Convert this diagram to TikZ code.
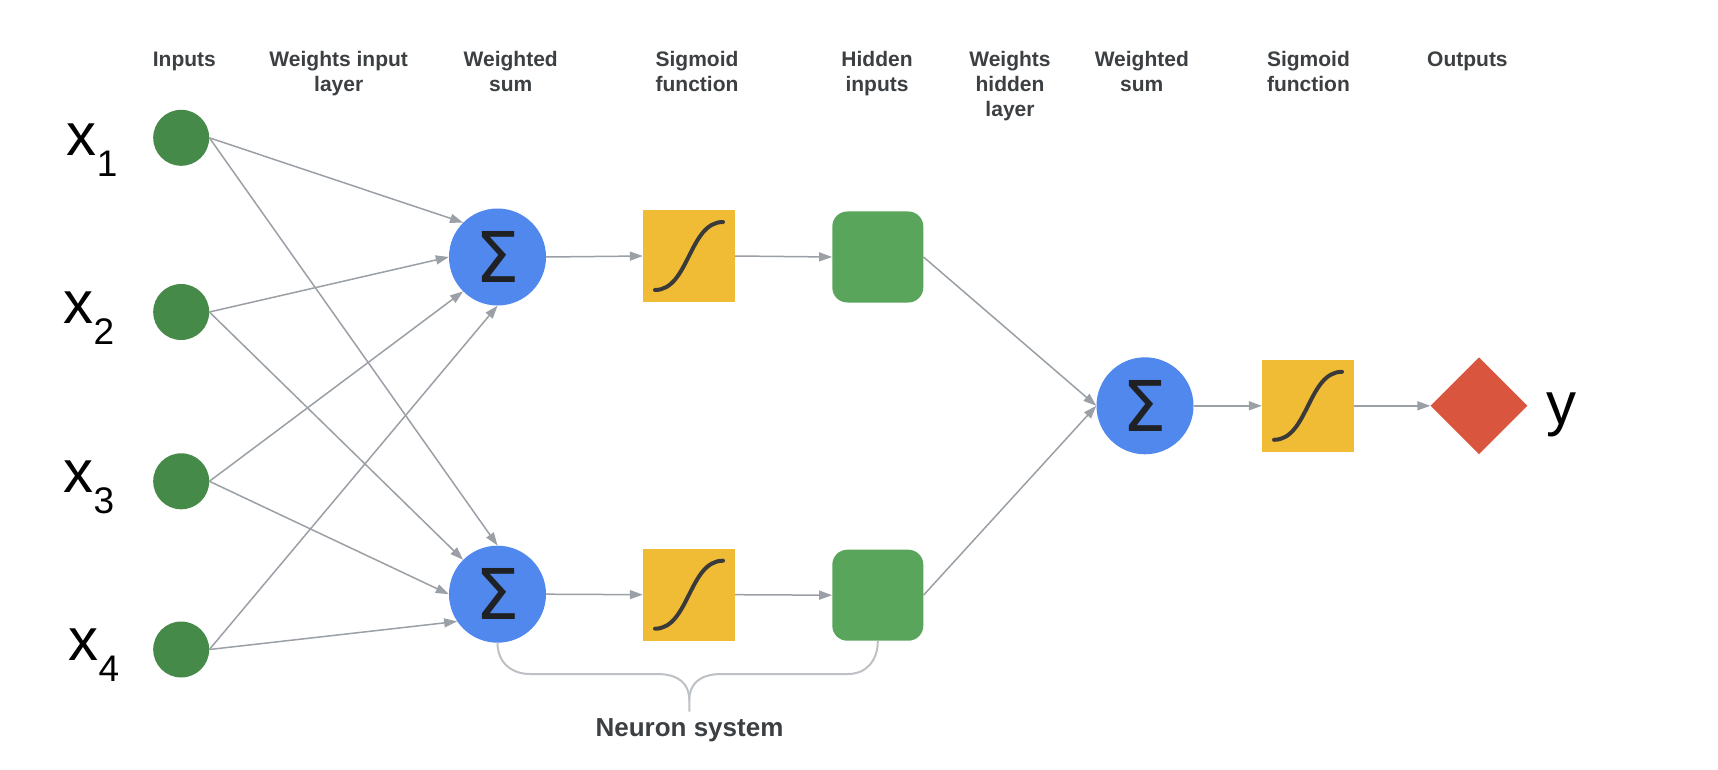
\documentclass[tikz,border=0pt]{standalone}
\usepackage{fontspec}
\setmainfont{Liberation Sans}
\newfontfamily\sigmafont{DejaVu Sans}
\usetikzlibrary{arrows.meta,shapes.geometric}
\definecolor{ingreen}{HTML}{458A48}
\definecolor{hidgreen}{HTML}{59A55C}
\definecolor{sumblue}{HTML}{5088EE}
\definecolor{sgyellow}{HTML}{F0BC36}
\definecolor{outred}{HTML}{D9553D}
\definecolor{conngray}{HTML}{9AA0A6}
\definecolor{bracegray}{HTML}{BDC1C6}
\definecolor{headgray}{HTML}{3C4043}
\definecolor{sigmatext}{HTML}{202124}
\definecolor{curvegray}{HTML}{3A3A3A}
\tikzset{
  inputnode/.style={circle, fill=ingreen, minimum size=56pt, inner sep=0pt},
  sumnode/.style={circle, fill=sumblue, minimum size=97pt, inner sep=0pt, text=sigmatext, font=\sigmafont\fontsize{70}{70}\selectfont},
  sgmbox/.style={rectangle, fill=sgyellow, minimum size=92pt, inner sep=0pt},
  hidbox/.style={rectangle, rounded corners=15pt, fill=hidgreen, minimum size=91pt, inner sep=0pt},
  outnode/.style={diamond, fill=outred, minimum size=97pt, inner sep=0pt},
  conn/.style={draw=conngray, line width=1.5pt, -{Triangle[length=13pt,width=9pt]}},
  header/.style={font=\bfseries\fontsize{21}{25}\selectfont, text=headgray, align=center, anchor=base, inner sep=0pt},
  varlabel/.style={font=\fontsize{60}{60}\selectfont, text=black, anchor=base west, inner sep=0pt},
  bracepath/.style={draw=bracegray, line width=2pt},
  sigcurve/.style={draw=curvegray, line width=4pt, line cap=round}
}
\newcommand{\vsub}[1]{\raisebox{-21pt}{\fontsize{37}{37}\selectfont #1}}
\begin{document}
\begin{tikzpicture}[x=1pt,y=-1pt]
\useasboundingbox (0,0) rectangle (1718,770);
\fill[white] (0,0) rectangle (1718,770);

% headers (positioned at the baseline of their last line)
\node[header] (h1) at (184.4,66.7) {Inputs};
\node[header] (h2) at (338.7,91.7) {Weights input\\layer};
\node[header] (h3) at (510.7,91.7) {Weighted\\sum};
\node[header] (h4) at (697,91.7) {Sigmoid\\function};
\node[header] (h5) at (877,91.7) {Hidden\\inputs};
\node[header] (h6) at (1010,116.7) {Weights\\hidden\\layer};
\node[header] (h7) at (1141.8,91.7) {Weighted\\sum};
\node[header] (h8) at (1308.4,91.7) {Sigmoid\\function};
\node[header] (h9) at (1467.4,66.7) {Outputs};

% inputs
\node[inputnode] (in1) at (181.2,137.8) {};
\node[inputnode] (in2) at (181.2,312) {};
\node[inputnode] (in3) at (181.2,481.3) {};
\node[inputnode] (in4) at (181.2,649.5) {};
\node[varlabel] (l1) at (66.7,155.5) {x\vsub{1}};
\node[varlabel] (l2) at (63.3,323.9) {x\vsub{2}};
\node[varlabel] (l3) at (63.3,492.3) {x\vsub{3}};
\node[varlabel] (l4) at (68.3,660.7) {x\vsub{4}};

% neuron system
\node[sumnode] (sig1) at (497.5,257) {Σ};
\node[sumnode] (sig2) at (497.5,594.2) {Σ};
\node[sgmbox] (sgm1) at (689,256) {};
\node[sgmbox] (sgm2) at (689,594.7) {};
\node[hidbox] (hid1) at (877.8,257) {};
\node[hidbox] (hid2) at (877.8,595.2) {};

% output part
\node[sumnode] (sig3) at (1145,405.8) {Σ};
\node[sgmbox] (sgm3) at (1308,405.8) {};
\node[outnode] (out) at (1479,405.8) {};
\node[varlabel] (ly) at (1546,424.5) {y};

% sigmoid curves
\foreach \n in {sgm1,sgm2,sgm3}
  \draw[sigcurve] ([shift={(-34,34)}]\n.center) .. controls ([shift={(0,34)}]\n.center) and ([shift={(0,-34)}]\n.center) .. ([shift={(34,-34)}]\n.center);

% connectors input layer
\draw[conn] (in1.east) -- (sig1.north west);
\draw[conn] (in1.east) -- (sig2.north);
\draw[conn] (in2.east) -- (sig1.west);
\draw[conn] (in2.east) -- (sig2.north west);
\draw[conn] (in3.east) -- (sig1.south west);
\draw[conn] (in3.east) -- (sig2.west);
\draw[conn] (in4.east) -- (sig1.south);
\draw[conn] (in4.east) -- (sig2.214);

\draw[conn] (sig1.east) -- (sgm1.west);
\draw[conn] (sgm1.east) -- (hid1.west);
\draw[conn] (sig2.east) -- (sgm2.west);
\draw[conn] (sgm2.east) -- (hid2.west);

\draw[conn] (hid1.east) -- (sig3.west);
\draw[conn] (hid2.east) -- (sig3.west);
\draw[conn] (sig3.east) -- (sgm3.west);
\draw[conn] (sgm3.east) -- (out.west);

% brace
\coordinate (bracetip) at (689.3,711.7);
\draw[bracepath] (sig2.south) .. controls +(0,20) and +(-18,0) .. (530,674) -- (657,674)
  .. controls +(22,0) and +(0,-16) .. (689.3,700) -- (bracetip);
\draw[bracepath] (hid2.south) .. controls +(0,20) and +(18,0) .. (848,674) -- (721.6,674)
  .. controls +(-22,0) and +(0,-16) .. (689.3,700);
\node[font=\bfseries\fontsize{26}{26}\selectfont, text=headgray, anchor=base, inner sep=0pt] (ns) at (689.5,736) {Neuron system};
\end{tikzpicture}
\end{document}
